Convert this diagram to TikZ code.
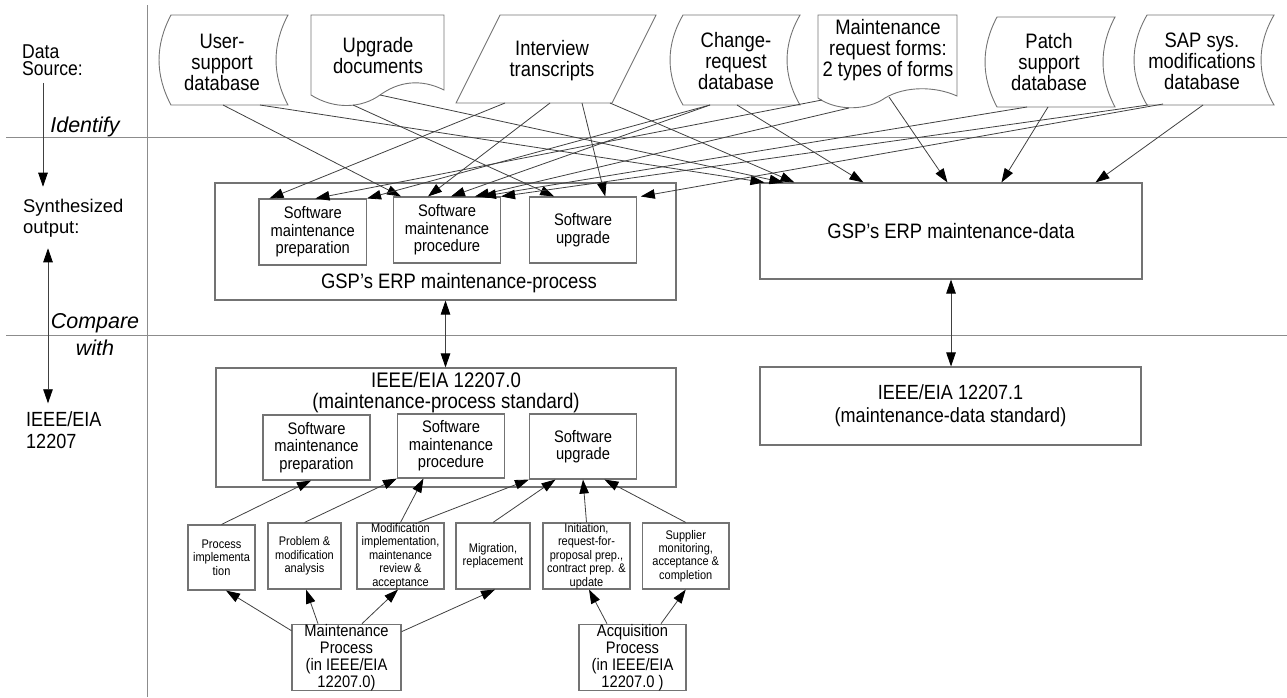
\documentclass[tikz,border=0pt]{standalone}
\usepackage{fontspec}
\setmainfont{Liberation Sans}[FakeStretch=0.88]
\newfontfamily\wfont{Liberation Sans}
\usetikzlibrary{arrows.meta,calc}
\definecolor{boxc}{gray}{0.45}
\definecolor{linec}{gray}{0.25}
\definecolor{sepc}{gray}{0.55}
\newcommand{\mysd}[5]{% L R T B bulge : stored-data shape
  \draw[shp] (#1,#3) -- (#2,#3)
    .. controls ({#2-1.33*#5},{#3+(#4-#3)/3}) and ({#2-1.33*#5},{#3+2*(#4-#3)/3}) .. (#2,#4)
    -- (#1,#4)
    .. controls ({#1-1.33*#5},{#3+2*(#4-#3)/3}) and ({#1-1.33*#5},{#3+(#4-#3)/3}) .. (#1,#3) -- cycle;}
\tikzset{
  lbl/.style={font=\fontsize{20.5}{21}\selectfont, align=left, anchor=west, inner sep=0},
  src/.style={font=\fontsize{20.9}{21}\selectfont, align=center, inner sep=0},
  shp/.style={draw=boxc, line width=0.9pt},
  box/.style={draw=boxc, line width=1.1pt, inner sep=0, align=center},
  big/.style={box, font=\fontsize{20.9}{23}\selectfont},
  mid/.style={box, font=\fontsize{16.7}{17.5}\selectfont, minimum width=107pt, minimum height=65pt},
  sml/.style={box, font=\fontsize{12.5}{13.4}\selectfont, minimum height=66pt},
  proc/.style={box, font=\fontsize{16.7}{17}\selectfont, minimum width=108pt, minimum height=65pt},
  arr/.style={draw=linec, line width=0.8pt, -{Triangle[length=14pt,width=9.5pt,color=black]}},
  darr/.style={draw=linec, line width=0.8pt, {Triangle[length=14pt,width=9.5pt,color=black]}-{Triangle[length=14pt,width=9.5pt,color=black]}},
  sep/.style={draw=sepc, line width=0.8pt},
  itl/.style={font=\wfont\itshape\fontsize{21.5}{27}\selectfont, align=center, inner sep=0},
}
\begin{document}
\begin{tikzpicture}[x=1pt,y=-1pt]
\useasboundingbox (0,0) rectangle (1287,697);

% separators
\coordinate (h1l) at (6,137); \coordinate (h1r) at (1287,137);
\coordinate (h2l) at (6,335); \coordinate (h2r) at (1287,335);
\coordinate (vt) at (147,5); \coordinate (vb) at (147,697);
\draw[sep] (h1l) -- (h1r);
\draw[sep] (h2l) -- (h2r);
\draw[sep] (vt) -- (vb);

% left labels
\node[lbl, font=\fontsize{20}{17.5}\selectfont] (ds) at (22,60) {Data\\Source:};
\node[lbl, font=\wfont\fontsize{18.4}{21}\selectfont] (so) at (23,218) {Synthesized\\output:};
\node[lbl, font=\fontsize{20.5}{22}\selectfont] (ie) at (26,430) {IEEE/EIA\\12207};
\node[itl] (idf) at (85,127) {Identify};
\node[itl] (cmp) at (95,335) {Compare\\with};
\coordinate (ax) at (43,0);
\coordinate (bx) at (48,0);
\draw[arr] ($(ds.south -| ax)+(0,7)$) -- ($(so.north -| ax)+(0,-12)$);
\draw[darr] ($(so.south -| bx)+(0,11)$) -- ($(ie.north -| bx)+(0,-8)$);

% data source shapes
\mysd{171}{288}{15}{105}{12}
\draw[shp] (311,95) -- (311,15) -- (444,15) -- (444,90)
  .. controls (420,78) and (398,82) .. (380,95)
  .. controls (362,108) and (335,110) .. (311,95) -- cycle;
\draw[shp] (500,15) -- (656,15) -- (612,103) -- (456,103) -- cycle;
\mysd{683}{800}{15}{105}{13}
\draw[shp] (818,98) -- (818,15) -- (957,15) -- (957,96)
  .. controls (935,86) and (905,86) .. (885,98)
  .. controls (868,110) and (838,112) .. (818,98) -- cycle;
\mysd{997}{1115}{17}{107}{12}
\mysd{1147}{1274}{15}{105}{13}

\node[src] (us) at (222,62) {User-\\support\\database};
\node[src] (ud) at (378,56) {Upgrade\\documents};
\node[src] (it) at (552,61) {Interview\\transcripts};
\node[src] (cr) at (736,61) {Change-\\request\\database};
\node[src] (mr) at (888,50) {Maintenance\\request forms:\\2 types of forms};
\node[src] (ps) at (1049,62) {Patch\\support\\database};
\node[src] (sap) at (1202,61) {SAP sys.\\modifications\\database};

% start points on the source shapes
\coordinate (us1) at (223,105); \coordinate (us2) at (260,105);
\coordinate (ud1) at (353,105); \coordinate (ud2) at (380,95);
\coordinate (it1) at (505,103); \coordinate (it2) at (550,103);
\coordinate (it3) at (582,103); \coordinate (it4) at (610,103);
\coordinate (cr1) at (710,105); \coordinate (cr2) at (737,105);
\coordinate (mr1) at (822,100); \coordinate (mr2) at (849,108); \coordinate (mr3) at (889,97);
\coordinate (ps1) at (1027,107); \coordinate (ps2) at (1048,107);
\coordinate (sap1) at (1148,105); \coordinate (sap2) at (1163,104); \coordinate (sap3) at (1203,105);

% synthesized output
\node[box, minimum width=461pt, minimum height=117pt] (gpp) at (445.5,241.5) {};
\node[inner sep=0, font=\fontsize{20.9}{21}\selectfont] (gppt) at (459,283) {GSP's ERP maintenance-process};
\node[mid, minimum width=107.5pt, minimum height=66pt] (smp1) at (312.75,232) {Software\\maintenance\\preparation};
\node[mid, minimum height=66pt] (spr1) at (447,230) {Software\\maintenance\\procedure};
\node[mid, minimum width=106.5pt, minimum height=66pt] (su1) at (583,230) {Software\\upgrade};
\node[big, minimum width=382pt, minimum height=96pt] (gpd) at (951,231) {GSP's ERP maintenance-data};

% standards
\node[box, minimum width=460pt, minimum height=119pt] (ie0) at (446,427.5) {};
\node[inner sep=0, align=center, font=\fontsize{21.1}{21}\selectfont] (ie0t) at (446,392.5) {IEEE/EIA 12207.0\\(maintenance-process standard)};
\node[mid] (smp2) at (316.5,447.5) {Software\\maintenance\\preparation};
\node[mid, minimum height=64pt] (spr2) at (451,446) {Software\\maintenance\\procedure};
\node[mid] (su2) at (583,446.5) {Software\\upgrade};
\node[big, font=\fontsize{20.5}{23}\selectfont, minimum width=381pt, minimum height=78pt] (ie1) at (950.5,406) {IEEE/EIA 12207.1\\(maintenance-data standard)};

% activity boxes
\node[sml, minimum width=67pt, minimum height=65pt] (b1) at (221.5,557.5) {Process\\implementa\\tion};
\node[sml, minimum width=73pt] (b2) at (304.5,556) {Problem \&\\modification\\analysis};
\node[sml, minimum width=87pt] (b3) at (400.5,556) {Modification\\implementation,\\maintenance\\review \&\\acceptance};
\node[sml, minimum width=74pt] (b4) at (493,556) {Migration,\\replacement};
\node[sml, minimum width=87pt] (b5) at (586.5,556) {Initiation,\\request-for-\\proposal prep.,\\contract prep. \&\\update};
\node[sml, minimum width=86.5pt] (b6) at (685.75,556) {Supplier\\monitoring,\\acceptance \&\\completion};
\node[proc, minimum width=109pt] (mp) at (346.5,657.5) {Maintenance\\Process\\(in IEEE/EIA\\12207.0)};
\node[proc, minimum width=107pt] (ap) at (632.5,657.5) {Acquisition\\Process\\(in IEEE/EIA\\12207.0 )};

% top connectors
\draw[arr] (us1) -- ([xshift=8pt]spr1.north west);
\draw[arr] (us2) -- ([xshift=5pt]gpd.north west);
\draw[arr] (ud1) -- ([xshift=25pt]su1.north west);
\draw[arr] (ud2) -- ([xshift=24pt]gpd.north west);
\draw[arr] (it1) -- ([xshift=11pt]smp1.north west);
\draw[arr] (it2) -- ([xshift=35pt]spr1.north west);
\draw[arr] (it3) -- ([xshift=76pt]su1.north west);
\draw[arr] (it4) -- ([xshift=35pt]gpd.north west);
\draw[arr] (cr1) -- (smp1.north east);
\draw[arr] (cr1) -- ([xshift=58pt]spr1.north west);
\draw[arr] (cr2) -- ([xshift=104pt]gpd.north west);
\draw[arr] (mr1) -- ([xshift=57pt]smp1.north west);
\draw[arr] (mr2) -- ([xshift=82pt]spr1.north west);
\draw[arr] (mr3) -- ([xshift=188pt]gpd.north west);
\draw[arr] (ps1) -- ([xshift=89pt]spr1.north west);
\draw[arr] (ps2) -- ([xshift=242pt]gpd.north west);
\draw[arr] (sap1) -- (spr1.north east);
\draw[arr] (sap2) -- ([xshift=4pt]su1.north east);
\draw[arr] (sap3) -- ([xshift=336pt]gpd.north west);

% compare connectors
\draw[darr] (gpp.south) -- (gpp.south |- ie0.north);
\draw[darr] (gpd.south) -- (gpd.south |- ie1.north);

% activity -> standard sub-boxes
\draw[arr] (b1.north) -- ([xshift=-5.5pt]smp2.south);
\draw[arr] (b2.north) -- (spr2.south west);
\draw[arr] (b3.north) -- ([xshift=26.5pt]spr2.south west);
\draw[arr] ([xshift=17.5pt]b3.north) -- (su2.south west);
\draw[arr] (b4.north) -- ([xshift=26.5pt]su2.south west);
\draw[arr] (b5.north) -- (su2.south);
\draw[arr] (b6.north) -- ([xshift=75.5pt]su2.south west);

% processes -> activities
\draw[arr] ([yshift=-7pt]mp.north west) -- ([xshift=4.5pt]b1.south);
\draw[arr] ([xshift=-28.5pt]mp.north) -- ([xshift=1.5pt]b2.south);
\draw[arr] ([xshift=15.5pt]mp.north) -- ([xshift=-2.5pt]b3.south);
\draw[arr] ([yshift=-8pt]mp.north east) -- ([xshift=2pt]b4.south);
\draw[arr] ([xshift=-25.5pt]ap.north) -- ([xshift=2.5pt]b5.south);
\draw[arr] ([xshift=28.5pt]ap.north) -- (b6.south);
\end{tikzpicture}
\end{document}
